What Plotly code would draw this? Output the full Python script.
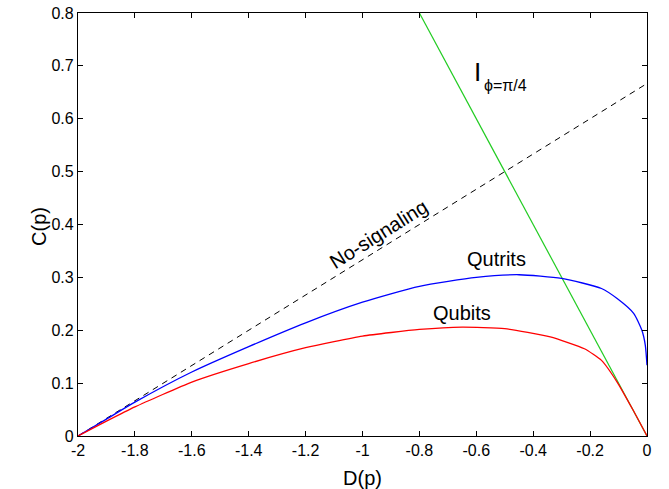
import plotly.graph_objects as go

# Data
nosig_D = [-2.0, 0.0]
nosig_C = [0.0, 2.0 / 3.0]

bound_D = [-0.8, 0.0]
bound_C = [0.8, 0.0]

qutrits_D = [-2.0, -1.9, -1.8, -1.6, -1.4, -1.2, -1.0, -0.8, -0.6, -0.45, -0.3, -0.16, -0.105, -0.047, -0.018, -0.006, 0.0]
qutrits_C = [0.0, 0.032, 0.064, 0.121, 0.169, 0.214, 0.253, 0.283, 0.300, 0.305, 0.298, 0.279, 0.260, 0.232, 0.200, 0.172, 0.134]

qubits_D = [-2.0, -1.9, -1.8, -1.6, -1.4, -1.2, -1.0, -0.8, -0.65, -0.5, -0.34, -0.22, -0.16, -0.105, -0.05, 0.0]
qubits_C = [0.0, 0.028, 0.055, 0.102, 0.137, 0.167, 0.189, 0.2015, 0.206, 0.203, 0.1875, 0.165, 0.143, 0.102, 0.05, 0.0]

x_ticks = [-2, -1.8, -1.6, -1.4, -1.2, -1, -0.8, -0.6, -0.4, -0.2, 0]
x_tick_labels = ["-2", "-1.8", "-1.6", "-1.4", "-1.2", "-1", "-0.8", "-0.6", "-0.4", "-0.2", "0"]
y_ticks = [0, 0.1, 0.2, 0.3, 0.4, 0.5, 0.6, 0.7, 0.8]
y_tick_labels = ["0", "0.1", "0.2", "0.3", "0.4", "0.5", "0.6", "0.7", "0.8"]

FONT = "Liberation Sans, Arial, Helvetica, sans-serif"

fig = go.Figure()
fig.add_trace(go.Scatter(x=nosig_D, y=nosig_C, mode="lines",
                         line=dict(color="black", width=1, dash="6px,5px"), showlegend=False))
fig.add_trace(go.Scatter(x=bound_D, y=bound_C, mode="lines",
                         line=dict(color="#22cc22", width=1.2), showlegend=False))
fig.add_trace(go.Scatter(x=qutrits_D, y=qutrits_C, mode="lines",
                         line=dict(color="#0000ff", width=1.3, shape="spline", smoothing=0.6),
                         showlegend=False))
fig.add_trace(go.Scatter(x=qubits_D, y=qubits_C, mode="lines",
                         line=dict(color="#ff0000", width=1.3, shape="spline", smoothing=0.5),
                         showlegend=False))

annots = [
    dict(x=-0.597, y=0.689, text="I", font=dict(size=26)),
    dict(x=-0.498, y=0.662, text="ϕ=π/4", font=dict(size=16)),
    dict(x=-0.943, y=0.382, text="No-signaling", font=dict(size=20), textangle=-32),
    dict(x=-0.53, y=0.335, text="Qutrits", font=dict(size=20)),
    dict(x=-0.65, y=0.232, text="Qubits", font=dict(size=20)),
]
for a in annots:
    a.update(xref="x", yref="y", showarrow=False)
    a["font"].update(family=FONT, color="black")
    fig.add_annotation(**a)

# y-axis title placed as paper annotation
fig.add_annotation(xref="paper", yref="paper", x=-0.0914, y=0.4965, text="C(p)",
                   textangle=-90, showarrow=False,
                   font=dict(family=FONT, size=20, color="black"))

axis_common = dict(showgrid=False, zeroline=False, showline=True, linecolor="black",
                   linewidth=1.2, mirror="ticks", ticks="inside", ticklen=5,
                   tickcolor="black", tickwidth=1, automargin=False,
                   tickfont=dict(family=FONT, size=16, color="black"))

fig.update_xaxes(range=[-2, 0], tickvals=x_ticks, ticktext=x_tick_labels,
                 title=dict(text="D(p)", font=dict(family=FONT, size=20, color="black")),
                 **axis_common)
fig.update_yaxes(range=[0, 0.8], tickvals=y_ticks, ticktext=y_tick_labels,
                 **axis_common)

fig.update_layout(width=669, height=489, plot_bgcolor="white", paper_bgcolor="white",
                  margin=dict(l=78, r=22, t=13, b=53), font=dict(family=FONT))

fig.write_html("out.html", config={"displayModeBar": False},
               post_script="document.body.style.margin='0';")
